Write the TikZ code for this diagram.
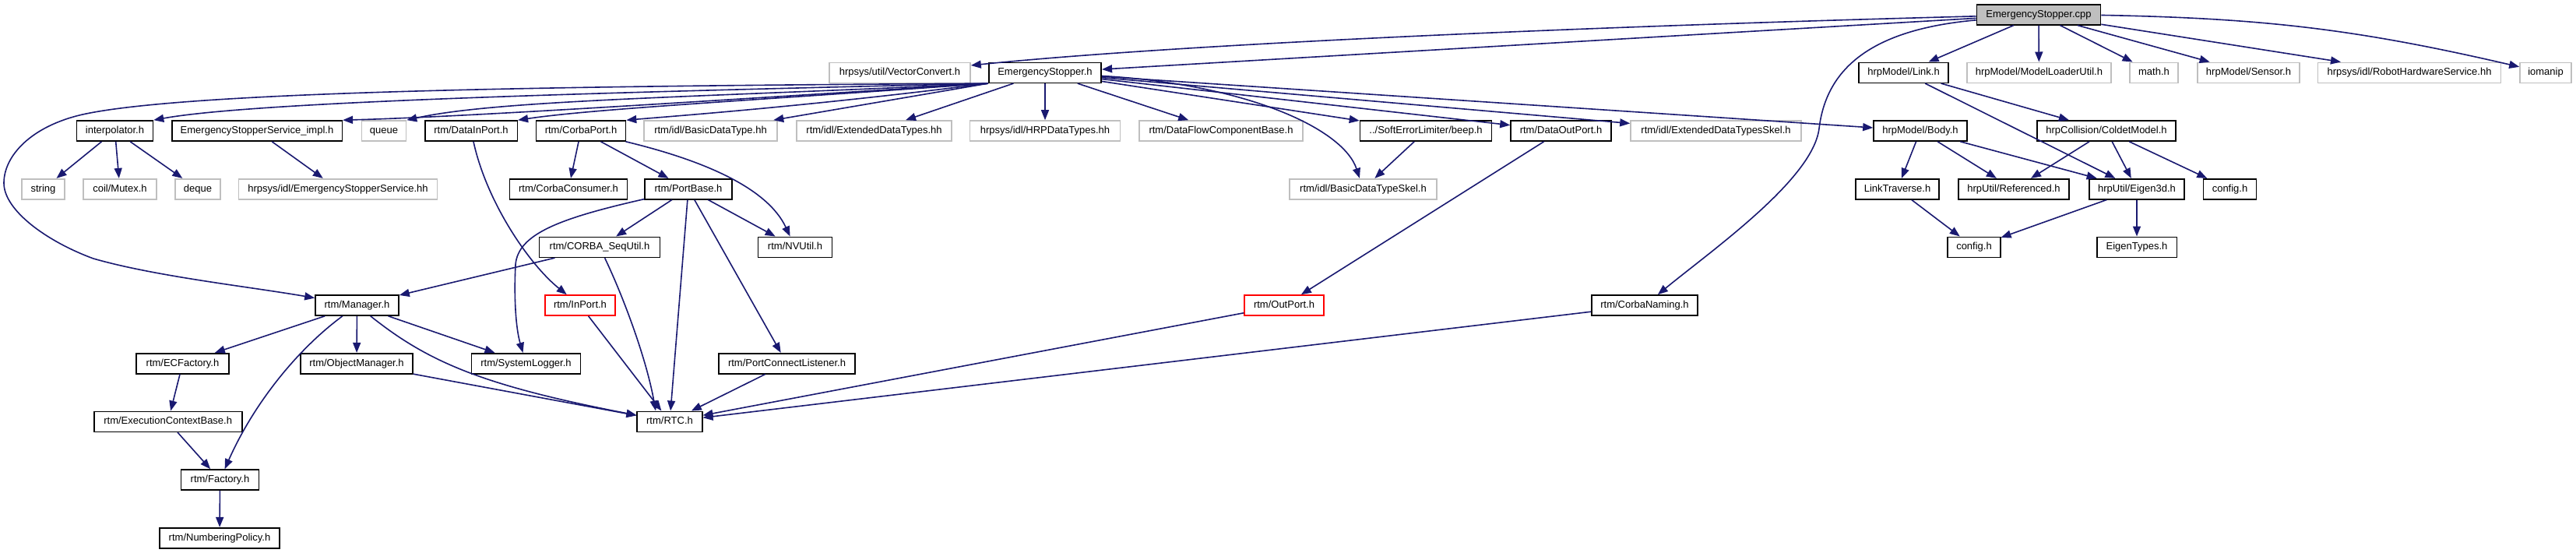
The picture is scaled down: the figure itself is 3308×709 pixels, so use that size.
\documentclass[tikz,border=0pt]{standalone}
\usepackage{fontspec}
\setmainfont{Liberation Sans}
\usetikzlibrary{arrows.meta}
\definecolor{edgecol}{HTML}{191970}
\definecolor{gline}{HTML}{BFBFBF}
\definecolor{rootfill}{HTML}{BFBFBF}
\tikzset{
  nodebase/.style={rectangle, inner sep=0pt, minimum height=13pt, line width=0.8pt,
    font=\fontsize{6.5pt}{7.8pt}\selectfont, text height=4.8pt, text depth=1.3pt, fill=white},
  bbox/.style={nodebase, draw=black},
  gbox/.style={nodebase, draw=gline},
  rbox/.style={nodebase, draw=red},
  rootbox/.style={nodebase, draw=black, fill=rootfill},
  edge/.style={draw=edgecol, line width=0.8pt, -{Triangle[length=6.5pt,width=5pt]}},
}
\begin{document}
\begin{tikzpicture}[x=0.5pt,y=-0.5pt]
\useasboundingbox (0,0) rectangle (3308,709);
% row 0
\node[rootbox, minimum width=79.5pt] (cpp) at (2618,18.7) {EmergencyStopper.cpp};
% row 1
\node[bbox, minimum width=72.25pt] (esh) at (1342,93.3) {EmergencyStopper.h};
\node[gbox, minimum width=90.5pt] (vc) at (1155.5,93.3) {hrpsys/util/VectorConvert.h};
\node[bbox, minimum width=57.5pt] (link) at (2444.5,93.3) {hrpModel/Link.h};
\node[gbox, minimum width=92.35pt] (mlu) at (2618.4,93.3) {hrpModel/ModelLoaderUtil.h};
\node[gbox, minimum width=31pt] (math) at (2766,93.3) {math.h};
\node[gbox, minimum width=65.5pt] (sensor) at (2887.5,93.3) {hrpModel/Sensor.h};
\node[gbox, minimum width=117.5pt] (rhs) at (3094,93.3) {hrpsys/idl/RobotHardwareService.hh};
\node[gbox, minimum width=33pt] (iom) at (3269,93.3) {iomanip};
% row 2
\node[bbox, minimum width=49pt] (interp) at (147.5,168) {interpolator.h};
\node[bbox, minimum width=109.3pt] (essi) at (330,168) {EmergencyStopperService\_impl.h};
\node[gbox, minimum width=28.5pt] (queue) at (493,168) {queue};
\node[bbox, minimum width=59.3pt] (dip) at (605,168) {rtm/DataInPort.h};
\node[bbox, minimum width=57.5pt] (cp) at (746,168) {rtm/CorbaPort.h};
\node[gbox, minimum width=85.5pt] (bdt) at (912.5,168) {rtm/idl/BasicDataType.hh};
\node[gbox, minimum width=99.5pt] (edt) at (1122.5,168) {rtm/idl/ExtendedDataTypes.hh};
\node[gbox, minimum width=96.5pt] (hrpdt) at (1342,168) {hrpsys/idl/HRPDataTypes.hh};
\node[gbox, minimum width=105pt] (dfcb) at (1568,168) {rtm/DataFlowComponentBase.h};
\node[bbox, minimum width=84.5pt] (beep) at (1831,168) {../SoftErrorLimiter/beep.h};
\node[bbox, minimum width=64.5pt] (dop) at (2004.5,168) {rtm/DataOutPort.h};
\node[gbox, minimum width=109.5pt] (edts) at (2203.5,168) {rtm/idl/ExtendedDataTypesSkel.h};
\node[bbox, minimum width=60pt] (body) at (2466,168) {hrpModel/Body.h};
\node[bbox, minimum width=89pt] (cdm) at (2705,168) {hrpCollision/ColdetModel.h};
% row 3
\node[gbox, minimum width=27.5pt] (str) at (55.5,242.7) {string};
\node[gbox, minimum width=46.75pt] (mutex) at (154,242.7) {coil/Mutex.h};
\node[gbox, minimum width=28.75pt] (deque) at (254,242.7) {deque};
\node[gbox, minimum width=127.35pt] (ess) at (434,242.7) {hrpsys/idl/EmergencyStopperService.hh};
\node[bbox, minimum width=75.5pt] (cc) at (730,242.7) {rtm/CorbaConsumer.h};
\node[bbox, minimum width=55.75pt] (pb) at (884,242.7) {rtm/PortBase.h};
\node[gbox, minimum width=94.5pt] (bdts) at (1750.5,242.7) {rtm/idl/BasicDataTypeSkel.h};
\node[bbox, minimum width=53.5pt] (lt) at (2436.5,242.7) {LinkTraverse.h};
\node[bbox, minimum width=71.25pt] (refd) at (2586,242.7) {hrpUtil/Referenced.h};
\node[bbox, minimum width=61.25pt] (e3d) at (2744,242.7) {hrpUtil/Eigen3d.h};
\node[bbox, minimum width=34pt] (cfgr) at (2863.5,242.7) {config.h};
% row 4
\node[bbox, minimum width=77.5pt] (csu) at (770,317.3) {rtm/CORBA\_SeqUtil.h};
\node[bbox, minimum width=47.5pt] (nv) at (1021,317.3) {rtm/NVUtil.h};
\node[bbox, minimum width=33.75pt] (cfgl) at (2535,317.3) {config.h};
\node[bbox, minimum width=51.3pt] (et) at (2744,317.3) {EigenTypes.h};
% row 5
\node[bbox, minimum width=53.5pt] (mgr) at (458.5,392) {rtm/Manager.h};
\node[rbox, minimum width=45pt] (inp) at (745,392) {rtm/InPort.h};
\node[rbox, minimum width=51pt] (outp) at (1649,392) {rtm/OutPort.h};
\node[bbox, minimum width=68pt] (cn) at (2112,392) {rtm/CorbaNaming.h};
% row 6
\node[bbox, minimum width=59.5pt] (ecf) at (234.5,466.7) {rtm/ECFactory.h};
\node[bbox, minimum width=71.75pt] (om) at (458,466.7) {rtm/ObjectManager.h};
\node[bbox, minimum width=70pt] (sl) at (675.5,466.7) {rtm/SystemLogger.h};
\node[bbox, minimum width=87.5pt] (pcl) at (1010.5,466.7) {rtm/PortConnectListener.h};
% row 7
\node[bbox, minimum width=95pt] (ecb) at (215.7,541.3) {rtm/ExecutionContextBase.h};
\node[bbox, minimum width=41.75pt] (rtc) at (860,541.3) {rtm/RTC.h};
% row 8
\node[bbox, minimum width=50pt] (fac) at (282.5,616) {rtm/Factory.h};
% row 9
\node[bbox, minimum width=77.25pt] (np) at (282,690.7) {rtm/NumberingPolicy.h};

% edges from EmergencyStopper.cpp
\draw[edge] (cpp) .. controls (2000,35) and (1500,58) .. (vc);
\draw[edge] (cpp) -- (esh);
\draw[edge] (cpp) .. controls (2400,38) and (2345,90) .. (2336,165) .. controls (2328,230) and (2200,320) .. (cn);
\draw[edge] (cpp) -- (link);
\draw[edge] (cpp) -- (mlu);
\draw[edge] (cpp) -- (math);
\draw[edge] (cpp) -- (sensor);
\draw[edge] (cpp) -- (rhs);
\draw[edge] (cpp) to[bend left=6] (iom);

% edges from EmergencyStopper.h
\draw[edge] (esh.south west) .. controls (800,110) and (250,115) .. (106,147) .. controls (40,162) and (5,200) .. (5,235) .. controls (5,270) and (60,310) .. (120,332) .. controls (200,355) and (320,368) .. (mgr);
\draw[edge] (esh.south west) .. controls (800,118) and (330,130) .. (interp.north east);
\draw[edge] (esh.south west) .. controls (900,130) and (600,150) .. (essi.north east);
\draw[edge] (esh.south west) .. controls (900,125) and (640,128) .. (queue.north east);
\draw[edge] (esh.south west) .. controls (950,130) and (760,140) .. (dip.north east);
\draw[edge] (esh.south west) .. controls (1050,135) and (880,148) .. (cp.north east);
\draw[edge] (esh.south west) -- (bdt);
\draw[edge] (esh) -- (edt);
\draw[edge] (esh) -- (hrpdt);
\draw[edge] (esh) -- (dfcb);
\draw[edge] (esh) -- (beep);
\draw[edge] (esh) -- (dop);
\draw[edge] (esh) -- (edts);
\draw[edge] (esh) -- (body);
\draw[edge] (esh) .. controls (1600,108) and (1725,165) .. (bdts);

% rtm side
\draw[edge] (interp) -- (str);
\draw[edge] (interp) -- (mutex);
\draw[edge] (interp) -- (deque);
\draw[edge] (essi) -- (ess);
\draw[edge] (dip) .. controls (625,260) and (680,340) .. (inp);
\draw[edge] (cp) -- (cc);
\draw[edge] (cp) -- (pb);
\draw[edge] (cp) .. controls (900,205) and (985,240) .. (nv);
\draw[edge] (pb) -- (csu);
\draw[edge] (pb) -- (nv);
\draw[edge] (pb) -- (pcl);
\draw[edge] (pb) -- (rtc);
\draw[edge] (pb) .. controls (720,280) and (665,300) .. (662,340) .. controls (660,380) and (662,420) .. (sl);
\draw[edge] (csu) -- (mgr);
\draw[edge] (csu) .. controls (800,380) and (830,460) .. ([xshift=-9pt]rtc.north);
\draw[edge] (mgr) -- (ecf);
\draw[edge] (mgr) -- (om);
\draw[edge] (mgr) -- (sl);
\draw[edge] (mgr) .. controls (380,450) and (325,520) .. (fac);
\draw[edge] (mgr) .. controls (550,465) and (620,495) .. (rtc);
\draw[edge] (om) -- (rtc);
\draw[edge] (ecf) -- (ecb);
\draw[edge] (ecb) -- (fac);
\draw[edge] (fac) -- (np);
\draw[edge] (inp) -- (rtc);
\draw[edge] (pcl) -- (rtc);
\draw[edge] (outp) -- (rtc);
\draw[edge] (cn) -- (rtc);
\draw[edge] (dop) -- (outp);
\draw[edge] (beep) -- (bdts);

% hrp side
\draw[edge] (link) -- (cdm);
\draw[edge] (link) -- (e3d);
\draw[edge] (body) -- (lt);
\draw[edge] (body) -- (refd);
\draw[edge] (body) -- (e3d);
\draw[edge] (cdm) -- (refd);
\draw[edge] (cdm) -- (e3d);
\draw[edge] (cdm) -- (cfgr);
\draw[edge] (lt) -- (cfgl);
\draw[edge] (e3d) -- (cfgl);
\draw[edge] (e3d) -- (et);
\end{tikzpicture}
\end{document}
